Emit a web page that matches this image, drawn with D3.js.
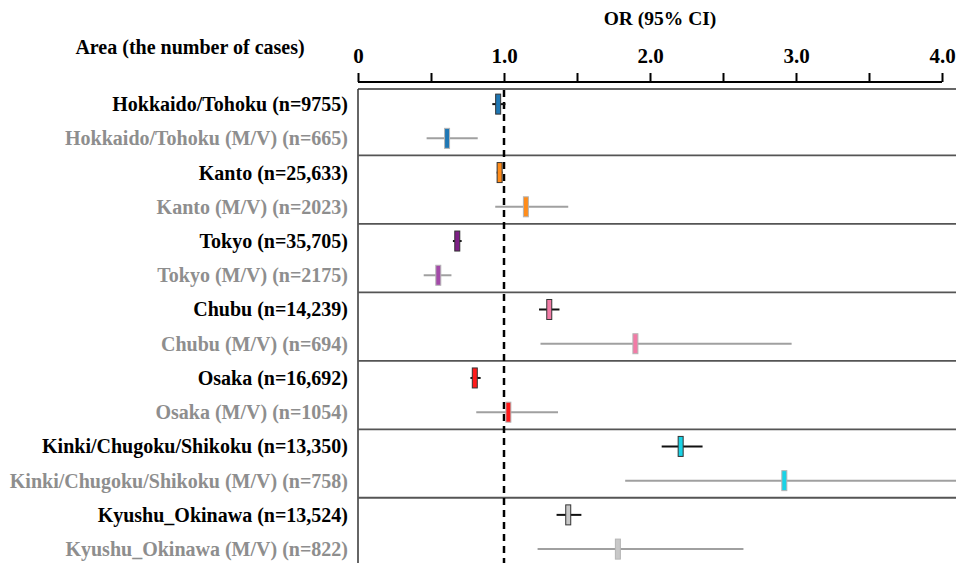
<!DOCTYPE html>
<html>
<head>
<meta charset="utf-8">
<script src="https://cdn.jsdelivr.net/npm/d3@7"></script>
<style>
  body { margin: 0; background: #fff; }
  text { font-family: "Liberation Serif", "Times New Roman", serif; font-weight: bold; }
</style>
</head>
<body>
<svg id="forest" width="956" height="563"></svg>
<script>
// rows, top to bottom
var labels = [
	'Hokkaido/Tohoku (n=9755)', 'Hokkaido/Tohoku (M/V) (n=665)',
	'Kanto (n=25,633)', 'Kanto (M/V) (n=2023)',
	'Tokyo (n=35,705)', 'Tokyo (M/V) (n=2175)',
	'Chubu (n=14,239)', 'Chubu (M/V) (n=694)',
	'Osaka (n=16,692)', 'Osaka (M/V) (n=1054)',
	'Kinki/Chugoku/Shikoku (n=13,350)', 'Kinki/Chugoku/Shikoku (M/V) (n=758)',
	'Kyushu_Okinawa (n=13,524)', 'Kyushu_Okinawa (M/V) (n=822)'
];
var isMV = [false, true, false, true, false, true, false, true, false, true, false, true, false, true];
var or = [0.96, 0.61, 0.97, 1.15, 0.68, 0.55, 1.31, 1.90, 0.80, 1.03, 2.21, 2.92, 1.44, 1.78];
var lower = [0.92, 0.47, 0.95, 0.94, 0.65, 0.45, 1.24, 1.25, 0.77, 0.81, 2.08, 1.83, 1.36, 1.23];
var upper = [1.01, 0.82, 0.99, 1.44, 0.71, 0.64, 1.38, 2.97, 0.84, 1.37, 2.36, 4.50, 1.53, 2.64];
var colors = ['#1f77b4', '#1f77b4', '#ff8c1a', '#ff8c1a', '#7e1f86', '#a34aa8',
	'#f27ba6', '#f27ba6', '#ff1a1a', '#ff1a1a', '#19d3e6', '#19d3e6', '#c8c8c8', '#c8c8c8'];
var tickVals = [0, 0.5, 1, 1.5, 2, 2.5, 3, 3.5, 4];
var tickLabels = {0: '0', 1: '1.0', 2: '2.0', 3: '3.0', 4: '4.0'};

var data = labels.map(function(d, i) {
	return {label: d, mv: isMV[i], or: or[i], lo: lower[i], hi: upper[i], color: colors[i]};
});

var svg = d3.select('#forest'),
	plotLeft = 358,
	plotRight = 942,
	plotTop = 87,
	rowH = 34.23,
	fs = 20;

var x = d3.scaleLinear().domain([0, 4]).range([plotLeft, plotRight]);
var y = d3.scaleBand().domain(labels).range([plotTop, plotTop + rowH * labels.length]);

svg.append('defs').append('clipPath').attr('id', 'plotClip')
	.append('rect').attr('x', plotLeft).attr('y', 0).attr('width', 956 - plotLeft).attr('height', 563);

// titles
svg.append('text')
	.attr('x', 660).attr('y', 25)
	.attr('text-anchor', 'middle')
	.attr('font-size', 19.5)
	.text('OR (95% CI)');

svg.append('text')
	.attr('x', 190).attr('y', 54)
	.attr('text-anchor', 'middle')
	.attr('font-size', fs)
	.text('Area (the number of cases)');

// top axis
var axis = svg.append('g')
	.attr('transform', 'translate(0,82)')
	.call(d3.axisTop(x).tickValues(tickVals).tickSize(9).tickPadding(10)
		.tickFormat(function(d) { return tickLabels[d] || ''; }));
axis.select('.domain').attr('stroke', '#000').attr('stroke-width', 2).attr('d', 'M' + plotLeft + ',0H' + plotRight);
axis.selectAll('.tick line').attr('stroke', '#000').attr('stroke-width', 2);
axis.selectAll('.tick text')
	.attr('font-size', 21)
	.attr('fill', '#000')
	.attr('font-family', '"Liberation Serif", serif')
	.attr('font-weight', 'bold');

// frame
svg.append('line')
	.attr('x1', plotLeft).attr('x2', 956)
	.attr('y1', 89).attr('y2', 89)
	.attr('stroke', '#333').attr('stroke-width', 1.5);
svg.append('line')
	.attr('x1', plotLeft).attr('x2', plotLeft)
	.attr('y1', 89).attr('y2', 563)
	.attr('stroke', '#333').attr('stroke-width', 1.5);

// group separators
var seps = labels.filter(function(d, i) { return i > 0 && i % 2 === 0; });
svg.selectAll('.sep')
	.data(seps)
	.enter().append('line')
	.attr('class', 'sep')
	.attr('x1', plotLeft).attr('x2', 956)
	.attr('y1', function(d) { return y(d); })
	.attr('y2', function(d) { return y(d); })
	.attr('stroke', '#555').attr('stroke-width', 1.8);

// row labels
svg.selectAll('.lab')
	.data(data)
	.enter().append('text')
	.attr('class', 'lab')
	.attr('x', 348)
	.attr('y', function(d) { return y(d.label) + y.bandwidth() / 2; })
	.attr('dy', '0.35em')
	.attr('text-anchor', 'end')
	.attr('font-size', fs)
	.attr('fill', function(d) { return d.mv ? '#8e8e8e' : '#000'; })
	.text(function(d) { return d.label; });

// reference line at OR = 1
svg.append('line')
	.attr('x1', x(1)).attr('x2', x(1))
	.attr('y1', 90).attr('y2', 563)
	.attr('stroke', '#000').attr('stroke-width', 2.5)
	.attr('stroke-dasharray', '7,5');

var g = svg.append('g').attr('clip-path', 'url(#plotClip)');

// whiskers
g.selectAll('.ci')
	.data(data)
	.enter().append('line')
	.attr('class', 'ci')
	.attr('x1', function(d) { return x(d.lo); })
	.attr('x2', function(d) { return x(d.hi); })
	.attr('y1', function(d) { return y(d.label) + y.bandwidth() / 2; })
	.attr('y2', function(d) { return y(d.label) + y.bandwidth() / 2; })
	.attr('stroke', function(d) { return d.mv ? '#a0a0a0' : '#111'; })
	.attr('stroke-width', 2);

// point markers
g.selectAll('.pt')
	.data(data)
	.enter().append('rect')
	.attr('class', 'pt')
	.attr('x', function(d) { return x(d.or) - 2.5; })
	.attr('y', function(d) { return y(d.label) + y.bandwidth() / 2 - 10; })
	.attr('width', 5)
	.attr('height', 20)
	.attr('fill', function(d) { return d.color; })
	.attr('stroke', function(d) { return d.mv ? '#b5b5b5' : '#333'; })
	.attr('stroke-width', 1);
</script>
</body>
</html>
